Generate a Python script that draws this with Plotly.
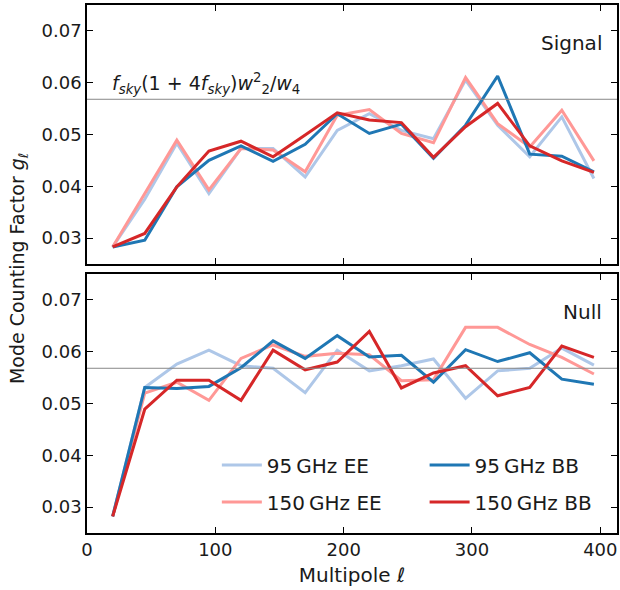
import plotly.graph_objects as go
from plotly.subplots import make_subplots

ell = [20, 45, 70, 95, 120, 145, 170, 195, 220, 245, 270, 295, 320, 345, 370, 395]

sig_95_ee = [0.0283, 0.0375, 0.0483, 0.0386, 0.0473, 0.0473, 0.0418, 0.0508, 0.0540, 0.0508, 0.0492, 0.0605, 0.0518, 0.0457, 0.0534, 0.0415]
sig_150_ee = [0.0283, 0.0386, 0.0489, 0.0393, 0.0473, 0.0470, 0.0428, 0.0537, 0.0548, 0.0502, 0.0484, 0.0610, 0.0521, 0.0476, 0.0547, 0.0449]
sig_95_bb = [0.0283, 0.0296, 0.0399, 0.0450, 0.0478, 0.0448, 0.0481, 0.0540, 0.0502, 0.0520, 0.0454, 0.0518, 0.0613, 0.0462, 0.0458, 0.0428]
sig_150_bb = [0.0283, 0.0309, 0.0399, 0.0468, 0.0487, 0.0457, 0.0499, 0.0542, 0.0528, 0.0523, 0.0456, 0.0515, 0.0560, 0.0478, 0.0449, 0.0427]

null_95_ee = [0.0282, 0.0531, 0.0576, 0.0603, 0.0573, 0.0568, 0.0521, 0.0603, 0.0563, 0.0573, 0.0586, 0.0510, 0.0563, 0.0568, 0.0607, 0.0574]
null_150_ee = [0.0282, 0.0520, 0.0541, 0.0506, 0.0587, 0.0613, 0.0591, 0.0597, 0.0594, 0.0544, 0.0546, 0.0647, 0.0647, 0.0614, 0.0589, 0.0557]
null_95_bb = [0.0282, 0.0531, 0.0529, 0.0533, 0.0569, 0.0621, 0.0587, 0.0631, 0.0590, 0.0593, 0.0541, 0.0604, 0.0581, 0.0598, 0.0547, 0.0537]
null_150_bb = [0.0282, 0.0489, 0.0545, 0.0545, 0.0506, 0.0603, 0.0565, 0.0580, 0.0639, 0.0530, 0.0559, 0.0573, 0.0515, 0.0531, 0.0611, 0.0589]

g_ref = 0.0568

series_names = ["95\u2009GHz EE", "150\u2009GHz EE", "95\u2009GHz BB", "150\u2009GHz BB"]
colors = ["#aec7e8", "#ff9896", "#1f77b4", "#d62728"]
legends = ["legend", "legend", "legend2", "legend2"]

FONT = "DejaVu Sans"
TXT = "#1a1a1a"

fig = make_subplots(rows=2, cols=1, shared_xaxes=True, vertical_spacing=10/528)

signal = [sig_95_ee, sig_150_ee, sig_95_bb, sig_150_bb]
null = [null_95_ee, null_150_ee, null_95_bb, null_150_bb]

for i in range(4):
    fig.add_trace(go.Scatter(x=ell, y=signal[i], mode="lines", name=series_names[i],
                             line=dict(color=colors[i], width=3), showlegend=False), row=1, col=1)
for i in range(4):
    fig.add_trace(go.Scatter(x=ell, y=null[i], mode="lines", name=series_names[i],
                             legendgroup="g%d" % i,
                             line=dict(color=colors[i], width=3), legend=legends[i]), row=2, col=1)

for r in (1, 2):
    fig.add_hline(y=g_ref, line=dict(color="#888888", width=1), row=r, col=1)

axis_common = dict(showline=True, linecolor="black", linewidth=1.6, mirror="ticks",
                   ticks="inside", ticklen=6, tickwidth=1.3, tickcolor="black",
                   showgrid=False, zeroline=False, automargin=False,
                   tickfont=dict(family=FONT, size=18, color=TXT))

fig.update_xaxes(range=[0, 413], tickvals=[0, 100, 200, 300, 400], **axis_common)
fig.update_yaxes(range=[0.025, 0.075], tickvals=[0.03, 0.04, 0.05, 0.06, 0.07],
                 tickformat=".2f", **axis_common)
fig.update_xaxes(showticklabels=False, row=1, col=1)
fig.update_xaxes(title=dict(text="Multipole <i>\u2113</i>", font=dict(family=FONT, size=20, color=TXT), standoff=9), row=2, col=1)

fig.add_annotation(text="<i>f</i><sub><i>sky</i></sub>(1 + 4<i>f</i><sub><i>sky</i></sub>)<i>w</i><sup>2</sup><sub>2</sub>/<i>w</i><sub>4</sub>",
                   xref="x", yref="y", x=18, y=g_ref, xanchor="left", yanchor="bottom",
                   showarrow=False, font=dict(family=FONT, size=19, color=TXT))
fig.add_annotation(text="Signal", xref="x domain", yref="y domain", x=0.975, y=0.855,
                   xanchor="right", yanchor="middle", showarrow=False,
                   font=dict(family=FONT, size=20, color=TXT))
fig.add_annotation(text="Null", xref="x2 domain", yref="y2 domain", x=0.975, y=0.855,
                   xanchor="right", yanchor="middle", showarrow=False,
                   font=dict(family=FONT, size=20, color=TXT))
fig.add_annotation(text="Mode Counting Factor <i>g</i><sub><i>\u2113</i></sub>", xref="paper", yref="paper",
                   x=-0.13, y=0.5, textangle=-90, showarrow=False, xanchor="center", yanchor="middle",
                   font=dict(family=FONT, size=19, color=TXT))

legend_style = dict(bgcolor="rgba(0,0,0,0)", borderwidth=0, orientation="v",
                    font=dict(family=FONT, size=20, color=TXT), itemwidth=40,
                    tracegroupgap=8, yanchor="bottom", xanchor="left")
fig.update_layout(
    width=620, height=590,
    margin=dict(l=87, r=3, t=5, b=57, autoexpand=False),
    plot_bgcolor="white", paper_bgcolor="white",
    font=dict(family=FONT, size=15, color=TXT),
    legend=dict(x=0.245, y=0.022, **legend_style),
    legend2=dict(x=0.637, y=0.022, **legend_style),
)

fig.write_html("out.html", config={"displayModeBar": False},
               post_script="document.body.style.margin='0';document.body.style.overflow='hidden';")
